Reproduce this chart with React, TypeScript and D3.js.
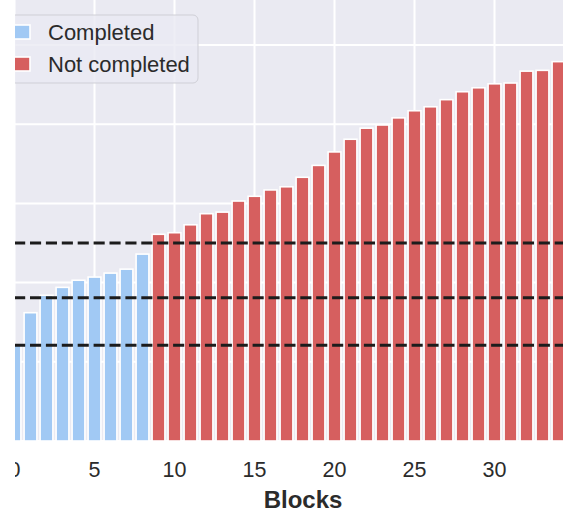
import { useEffect, useRef } from 'react';
import * as d3 from 'd3';

// block index -> value (y axis is not visible, units read off the gridlines, 100 per line)
const completed = [121, 162, 184, 194, 203, 207, 212, 217, 236];
const notCompleted = [
  261, 263, 273, 287, 289, 303, 309, 317, 321, 333, 348, 365, 381, 395, 399,
  408, 417, 422, 431, 441, 446, 451, 452, 467, 468, 479,
];
const thresholds = [250, 181, 121];
const xTicks = [0, 5, 10, 15, 20, 25, 30];
const xGrid = [0, 5, 10, 15, 20, 25, 30, 35];
const yGrid = [0, 100, 200, 300, 400, 500];
const legendItems = ['Completed', 'Not completed'];

const BLUE = '#a1c9f4';
const RED = '#d65f5f';
const FONT = '"Liberation Sans", Arial, sans-serif';

export default function App() {
  const svgRef = useRef<SVGSVGElement>(null);
  const W = 563, H = 512;

  useEffect(() => {
    const svg = d3.select(svgRef.current);
    svg.selectAll('*').remove();

    const bars = [
      ...completed.map((v, i) => ({ i, v, c: BLUE })),
      ...notCompleted.map((v, j) => ({ i: completed.length + j, v, c: RED })),
    ];

    const x = d3.scaleLinear().domain([0, 34]).range([14.5, 14.5 + 16 * 34]);
    const y = d3.scaleLinear().domain([0, 500]).range([441, 45]);
    const bw = (x(1) - x(0)) * 0.8;

    svg.append('defs').append('clipPath').attr('id', 'cut')
      .append('rect').attr('x', 15).attr('y', 0).attr('width', W).attr('height', H);

    const g = svg.append('g').attr('clip-path', 'url(#cut)');

    // axes background
    g.append('rect').attr('x', 0).attr('y', -10).attr('width', W + 20).attr('height', y(0) + 10)
      .attr('fill', '#eaeaf2');

    g.append('g').selectAll('line').data(yGrid).enter().append('line')
      .attr('x1', 0).attr('x2', W + 20)
      .attr('y1', d => y(d)).attr('y2', d => y(d))
      .attr('stroke', '#fff').attr('stroke-width', 2);

    g.append('g').selectAll('line').data(xGrid).enter().append('line')
      .attr('x1', d => x(d)).attr('x2', d => x(d))
      .attr('y1', -10).attr('y2', y(0))
      .attr('stroke', '#fff').attr('stroke-width', 2);

    // bars
    g.append('g').selectAll('rect').data(bars).enter().append('rect')
      .attr('x', d => x(d.i) - bw / 2).attr('width', bw)
      .attr('y', d => y(d.v)).attr('height', d => y(0) - y(d.v))
      .attr('fill', d => d.c).attr('stroke', '#fff').attr('stroke-width', 1.6);

    // threshold lines
    g.append('g').selectAll('line').data(thresholds).enter().append('line')
      .attr('x1', -1.8).attr('x2', W + 20)
      .attr('y1', d => y(d)).attr('y2', d => y(d))
      .attr('stroke', '#1c1c1c').attr('stroke-width', 3)
      .attr('stroke-dasharray', '11.1 4.8');

    // x tick labels
    g.append('g').selectAll('text').data(xTicks).enter().append('text')
      .attr('x', d => x(d)).attr('y', 477)
      .attr('text-anchor', 'middle')
      .attr('font-family', FONT).attr('font-size', 21.5).attr('fill', '#2b2b2b')
      .text(d => d);

    g.append('text').attr('x', 303).attr('y', 508)
      .attr('text-anchor', 'middle')
      .attr('font-family', FONT).attr('font-size', 24).attr('font-weight', 'bold')
      .attr('fill', '#2b2b2b').text('Blocks');

    // legend
    const lg = g.append('g');
    lg.append('rect').attr('x', -30).attr('y', 15).attr('width', 228).attr('height', 68)
      .attr('rx', 5).attr('fill', '#eaeaf2').attr('fill-opacity', 0.8)
      .attr('stroke', '#cfcfd6').attr('stroke-width', 1);
    legendItems.forEach((t, k) => {
      const cy = 32 + k * 32;
      lg.append('rect').attr('x', -6).attr('y', cy - 7).attr('width', 36).attr('height', 14)
        .attr('fill', k === 0 ? BLUE : RED).attr('stroke', '#fff').attr('stroke-width', 1.6);
      lg.append('text').attr('x', 48).attr('y', cy + 7.5)
        .attr('font-family', FONT).attr('font-size', 22).attr('fill', '#2b2b2b')
        .text(t);
    });
  }, []);

  return (
    <svg ref={svgRef} width={W} height={H}
      style={{ position: 'absolute', left: 0, top: 0, display: 'block', background: '#fff' }} />
  );
}
